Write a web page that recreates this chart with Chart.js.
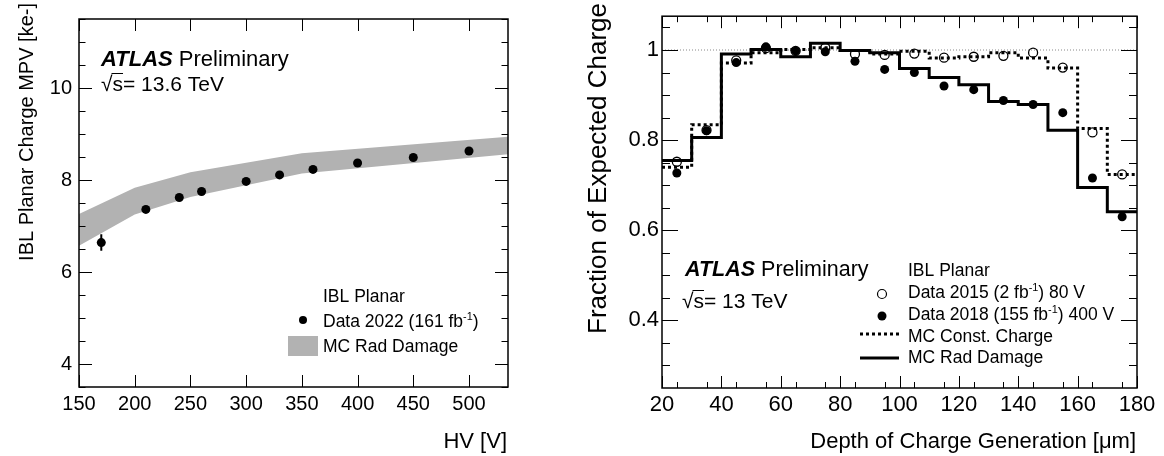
<!DOCTYPE html>
<html>
<head>
<meta charset="utf-8">
<script src="https://cdn.jsdelivr.net/npm/chart.js@4.4.1/dist/chart.umd.min.js"></script>
<style>
  html, body { margin: 0; padding: 0; background: #fff; }
  #wrap { position: relative; width: 1164px; height: 456px; }
  canvas { position: absolute; top: 0; }
  #hvChart { left: 0; }
  #depthChart { left: 582px; }
</style>
</head>
<body>
<div id="wrap">
  <canvas id="hvChart" width="582" height="456"></canvas>
  <canvas id="depthChart" width="582" height="456"></canvas>
</div>
<script>
// ---- left panel: MPV vs bias voltage ----
const hvVolts = [170, 210, 240, 260, 300, 330, 360, 400, 450, 500];
const mpv2022 = [6.64, 7.36, 7.62, 7.75, 7.97, 8.11, 8.23, 8.37, 8.49, 8.63];
const mpvErr = [0.18, 0.03, 0.03, 0.03, 0.03, 0.03, 0.03, 0.03, 0.03, 0.03];
const mcHv = [150, 200, 250, 350, 535];
const mcUpper = [7.26, 7.83, 8.17, 8.58, 8.94];
const mcLower = [6.57, 7.25, 7.63, 8.14, 8.56];
const hvTicks = [150, 200, 250, 300, 350, 400, 450, 500];
const mpvTicks = [4, 6, 8, 10];

// ---- right panel: charge fraction vs depth ----
const binEdges = [20, 30, 40, 50, 60, 70, 80, 90, 100, 110, 120, 130, 140, 150, 160, 170, 180];
const binCenters = [25, 35, 45, 55, 65, 75, 85, 95, 105, 115, 125, 135, 145, 155, 165, 175];
const data2015 = [0.752, 0.822, 0.977, 1.004, 0.998, 1.005, 0.991, 0.989, 0.992, 0.983, 0.985, 0.987, 0.994, 0.961, 0.817, 0.724];
const data2018 = [0.727, 0.821, 0.972, 1.007, 0.998, 0.996, 0.975, 0.957, 0.950, 0.920, 0.912, 0.888, 0.879, 0.861, 0.716, 0.630];
const mcConst = [0.740, 0.834, 0.971, 0.994, 1.001, 1.005, 0.999, 0.991, 0.997, 0.982, 0.985, 0.994, 0.982, 0.960, 0.826, 0.724];
const mcRad = [0.755, 0.806, 0.991, 1.001, 0.985, 1.015, 0.999, 0.994, 0.959, 0.939, 0.923, 0.886, 0.879, 0.822, 0.695, 0.641];
const depthTicks = [20, 40, 60, 80, 100, 120, 140, 160, 180];
const fracTicks = [0.4, 0.6, 0.8, 1];

const FONT = "'Liberation Sans', Arial, Helvetica, sans-serif";
Chart.defaults.font.family = FONT;
Chart.defaults.color = '#000';

function range(a, b, step) {
  const out = [];
  for (let v = a; v <= b + 1e-9; v += step) out.push(Math.round(v * 1000) / 1000);
  return out;
}

// histogram as step line: left edges + closing edge
function histPoints(vals) {
  const pts = vals.map((v, i) => ({ x: binEdges[i], y: v }));
  pts.push({ x: binEdges[binEdges.length - 1], y: vals[vals.length - 1] });
  return pts;
}

// draws text pieces one after another (superscripts, bold italic, overbar)
function rich(ctx, x, y, size, parts) {
  let cx = x;
  parts.forEach(p => {
    const s = p.sup ? size * 0.62 : size;
    ctx.font = (p.bi ? 'italic bold ' : '') + s + 'px ' + FONT;
    const yy = p.sup ? y - size * 0.42 : y;
    ctx.fillText(p.t, cx, yy);
    const w = ctx.measureText(p.t).width;
    if (p.bar) {
      ctx.beginPath();
      ctx.lineWidth = 1;
      ctx.moveTo(cx - 1, Math.round(y - size * 0.86) + 0.5);
      ctx.lineTo(cx + w, Math.round(y - size * 0.86) + 0.5);
      ctx.stroke();
    }
    cx += w;
  });
}

// ROOT-like frame with inward ticks on all four sides
const frameTicks = {
  id: 'frameTicks',
  afterDatasetsDraw(chart, args, o) {
    const { ctx, chartArea: a, scales: { x, y } } = chart;
    ctx.save();
    ctx.strokeStyle = '#000';
    ctx.lineWidth = 1;
    ctx.beginPath();
    const xt = (vals, len) => vals.forEach(v => {
      const p = Math.round(x.getPixelForValue(v)) + 0.5;
      ctx.moveTo(p, a.bottom); ctx.lineTo(p, a.bottom - len);
      ctx.moveTo(p, a.top); ctx.lineTo(p, a.top + len);
    });
    const yt = (vals, len) => vals.forEach(v => {
      const p = Math.round(y.getPixelForValue(v)) + 0.5;
      ctx.moveTo(a.left, p); ctx.lineTo(a.left + len, p);
      ctx.moveTo(a.right, p); ctx.lineTo(a.right - len, p);
    });
    xt(o.xMajor, o.xMajorLen);
    xt(o.xMinor, o.xMinorLen);
    yt(o.yMajor, o.yMajorLen);
    yt(o.yMinor, o.yMinorLen);
    ctx.stroke();
    ctx.lineWidth = 1.5;
    ctx.strokeRect(a.left, a.top, a.right - a.left, a.bottom - a.top);
    ctx.restore();
  }
};

// vertical error bars for the 2022 points
const errorBars = {
  id: 'errorBars',
  afterDatasetsDraw(chart) {
    const { ctx, scales: { x, y } } = chart;
    ctx.save();
    ctx.strokeStyle = '#000';
    ctx.lineWidth = 2;
    ctx.beginPath();
    hvVolts.forEach((v, i) => {
      const px = x.getPixelForValue(v);
      ctx.moveTo(px, y.getPixelForValue(mpv2022[i] - mpvErr[i]));
      ctx.lineTo(px, y.getPixelForValue(mpv2022[i] + mpvErr[i]));
    });
    ctx.stroke();
    ctx.restore();
  }
};

const hvLabels = {
  id: 'hvLabels',
  afterDraw(chart) {
    const ctx = chart.ctx;
    ctx.save();
    ctx.fillStyle = '#000';
    ctx.strokeStyle = '#000';
    ctx.textBaseline = 'alphabetic';
    ctx.textAlign = 'left';
    rich(ctx, 101, 66, 22, [{ t: 'ATLAS', bi: true }, { t: ' Preliminary' }]);
    rich(ctx, 101, 91, 21, [{ t: '√' }, { t: 's', bar: true }, { t: '= 13.6 TeV' }]);
    rich(ctx, 323, 302, 17.5, [{ t: 'IBL Planar' }]);
    rich(ctx, 323, 327, 17.5, [{ t: 'Data 2022 (161 fb' }, { t: '-1', sup: true }, { t: ')' }]);
    rich(ctx, 323, 352, 17.5, [{ t: 'MC Rad Damage' }]);
    ctx.beginPath();
    ctx.arc(303, 320, 4, 0, Math.PI * 2);
    ctx.fill();
    ctx.fillStyle = '#b2b2b2';
    ctx.fillRect(288, 336, 30, 20);
    ctx.fillStyle = '#000';
    ctx.font = '22px ' + FONT;
    ctx.textAlign = 'right';
    ctx.fillText('HV [V]', 507, 448);
    ctx.translate(33, 3);
    ctx.rotate(-Math.PI / 2);
    ctx.font = '20px ' + FONT;
    ctx.fillText('IBL Planar Charge MPV [ke-]', 0, 0);
    ctx.restore();
  }
};

const depthLabels = {
  id: 'depthLabels',
  afterDraw(chart) {
    const ctx = chart.ctx;
    const ox = 582;
    ctx.save();
    ctx.fillStyle = '#000';
    ctx.strokeStyle = '#000';
    ctx.textBaseline = 'alphabetic';
    ctx.textAlign = 'left';
    rich(ctx, 685 - ox, 276, 21.5, [{ t: 'ATLAS', bi: true }, { t: ' Preliminary' }]);
    rich(ctx, 682 - ox, 308, 21, [{ t: '√' }, { t: 's', bar: true }, { t: '= 13 TeV' }]);
    rich(ctx, 908 - ox, 276, 17.5, [{ t: 'IBL Planar' }]);
    rich(ctx, 908 - ox, 298, 17.5, [{ t: 'Data 2015 (2 fb' }, { t: '-1', sup: true }, { t: ') 80 V' }]);
    rich(ctx, 908 - ox, 320, 17.5, [{ t: 'Data 2018 (155 fb' }, { t: '-1', sup: true }, { t: ') 400 V' }]);
    rich(ctx, 908 - ox, 342, 17.5, [{ t: 'MC Const. Charge' }]);
    rich(ctx, 908 - ox, 363, 17.5, [{ t: 'MC Rad Damage' }]);
    ctx.lineWidth = 1.2;
    ctx.beginPath();
    ctx.arc(882 - ox, 294, 4.5, 0, Math.PI * 2);
    ctx.stroke();
    ctx.beginPath();
    ctx.arc(882 - ox, 316, 4.5, 0, Math.PI * 2);
    ctx.fill();
    ctx.lineWidth = 3;
    ctx.setLineDash([3, 3]);
    ctx.beginPath();
    ctx.moveTo(860 - ox, 334); ctx.lineTo(899 - ox, 334);
    ctx.stroke();
    ctx.setLineDash([]);
    ctx.beginPath();
    ctx.moveTo(860 - ox, 358); ctx.lineTo(899 - ox, 358);
    ctx.stroke();
    ctx.font = '22px ' + FONT;
    ctx.textAlign = 'right';
    ctx.fillText('Depth of Charge Generation [μm]', 1136 - ox, 448);
    ctx.translate(606 - ox, 3);
    ctx.rotate(-Math.PI / 2);
    ctx.font = '26px ' + FONT;
    ctx.fillText('Fraction of Expected Charge', 0, 0);
    ctx.restore();
  }
};

new Chart(document.getElementById('hvChart'), {
  type: 'line',
  data: {
    datasets: [
      {
        label: 'Data 2022',
        data: hvVolts.map((v, i) => ({ x: v, y: mpv2022[i] })),
        showLine: false,
        pointRadius: 4.5,
        pointBackgroundColor: '#000',
        pointBorderWidth: 0,
        order: 0
      },
      {
        label: 'MC upper',
        data: mcHv.map((v, i) => ({ x: v, y: mcUpper[i] })),
        borderColor: 'rgba(0,0,0,0)',
        borderWidth: 0,
        backgroundColor: '#b2b2b2',
        pointRadius: 0,
        fill: '+1',
        order: 1
      },
      {
        label: 'MC lower',
        data: mcHv.map((v, i) => ({ x: v, y: mcLower[i] })),
        borderColor: 'rgba(0,0,0,0)',
        borderWidth: 0,
        pointRadius: 0,
        fill: false,
        order: 2
      }
    ]
  },
  options: {
    responsive: false,
    devicePixelRatio: 1,
    animation: false,
    events: [],
    layout: { padding: { top: 6, right: 74, left: 0, bottom: 0 } },
    plugins: {
      legend: { display: false },
      tooltip: { enabled: false },
      frameTicks: {
        xMajor: hvTicks, xMinor: [], xMajorLen: 12, xMinorLen: 6,
        yMajor: mpvTicks, yMinor: range(3.5, 11.5, 0.5), yMajorLen: 13, yMinorLen: 6.5
      }
    },
    scales: {
      x: {
        type: 'linear', min: 150, max: 535,
        grid: { display: false, drawTicks: false },
        border: { display: false },
        ticks: { font: { size: 20 }, padding: 5, maxRotation: 0, autoSkip: false },
        afterBuildTicks: s => { s.ticks = hvTicks.map(v => ({ value: v })); },
        afterFit: s => { s.height = 69; }
      },
      y: {
        type: 'linear', min: 3.5, max: 11.5,
        grid: { display: false, drawTicks: false },
        border: { display: false },
        ticks: { font: { size: 20 }, padding: 7 },
        afterBuildTicks: s => { s.ticks = mpvTicks.map(v => ({ value: v })); },
        afterFit: s => { s.width = 79; }
      }
    }
  },
  plugins: [frameTicks, errorBars, hvLabels]
});

new Chart(document.getElementById('depthChart'), {
  type: 'line',
  data: {
    datasets: [
      {
        label: 'Data 2018',
        data: binCenters.map((v, i) => ({ x: v, y: data2018[i] })),
        showLine: false,
        pointRadius: 4.5,
        pointBackgroundColor: '#000',
        pointBorderWidth: 0,
        order: 0
      },
      {
        label: 'Data 2015',
        data: binCenters.map((v, i) => ({ x: v, y: data2015[i] })),
        showLine: false,
        pointRadius: 4.5,
        pointBackgroundColor: 'rgba(0,0,0,0)',
        pointBorderColor: '#000',
        pointBorderWidth: 1.3,
        order: 1
      },
      {
        label: 'MC Rad Damage',
        data: histPoints(mcRad),
        stepped: true,
        borderColor: '#000',
        borderWidth: 3,
        pointRadius: 0,
        fill: false,
        order: 2
      },
      {
        label: 'MC Const. Charge',
        data: histPoints(mcConst),
        stepped: true,
        borderColor: '#000',
        borderWidth: 3,
        borderDash: [3, 3],
        pointRadius: 0,
        fill: false,
        order: 3
      },
      {
        label: 'unity',
        data: [{ x: 20, y: 1 }, { x: 180, y: 1 }],
        borderColor: '#888',
        borderWidth: 1,
        borderDash: [1, 2],
        pointRadius: 0,
        fill: false,
        order: 4
      }
    ]
  },
  options: {
    responsive: false,
    devicePixelRatio: 1,
    animation: false,
    events: [],
    layout: { padding: { top: 12, right: 27, left: 0, bottom: 0 } },
    plugins: {
      legend: { display: false },
      tooltip: { enabled: false },
      frameTicks: {
        xMajor: depthTicks, xMinor: range(25, 175, 10), xMajorLen: 12, xMinorLen: 6,
        yMajor: fracTicks, yMinor: range(0.3, 1.05, 0.05), yMajorLen: 16, yMinorLen: 8
      }
    },
    scales: {
      x: {
        type: 'linear', min: 20, max: 180,
        grid: { display: false, drawTicks: false },
        border: { display: false },
        ticks: { font: { size: 22 }, padding: 4, maxRotation: 0, autoSkip: false },
        afterBuildTicks: s => { s.ticks = depthTicks.map(v => ({ value: v })); },
        afterFit: s => { s.height = 68; }
      },
      y: {
        type: 'linear', min: 0.25, max: 1.075,
        grid: { display: false, drawTicks: false },
        border: { display: false },
        ticks: { font: { size: 22 }, padding: 3, callback: v => String(v) },
        afterBuildTicks: s => { s.ticks = fracTicks.map(v => ({ value: v })); },
        afterFit: s => { s.width = 80; }
      }
    }
  },
  plugins: [frameTicks, depthLabels]
});
</script>
</body>
</html>
